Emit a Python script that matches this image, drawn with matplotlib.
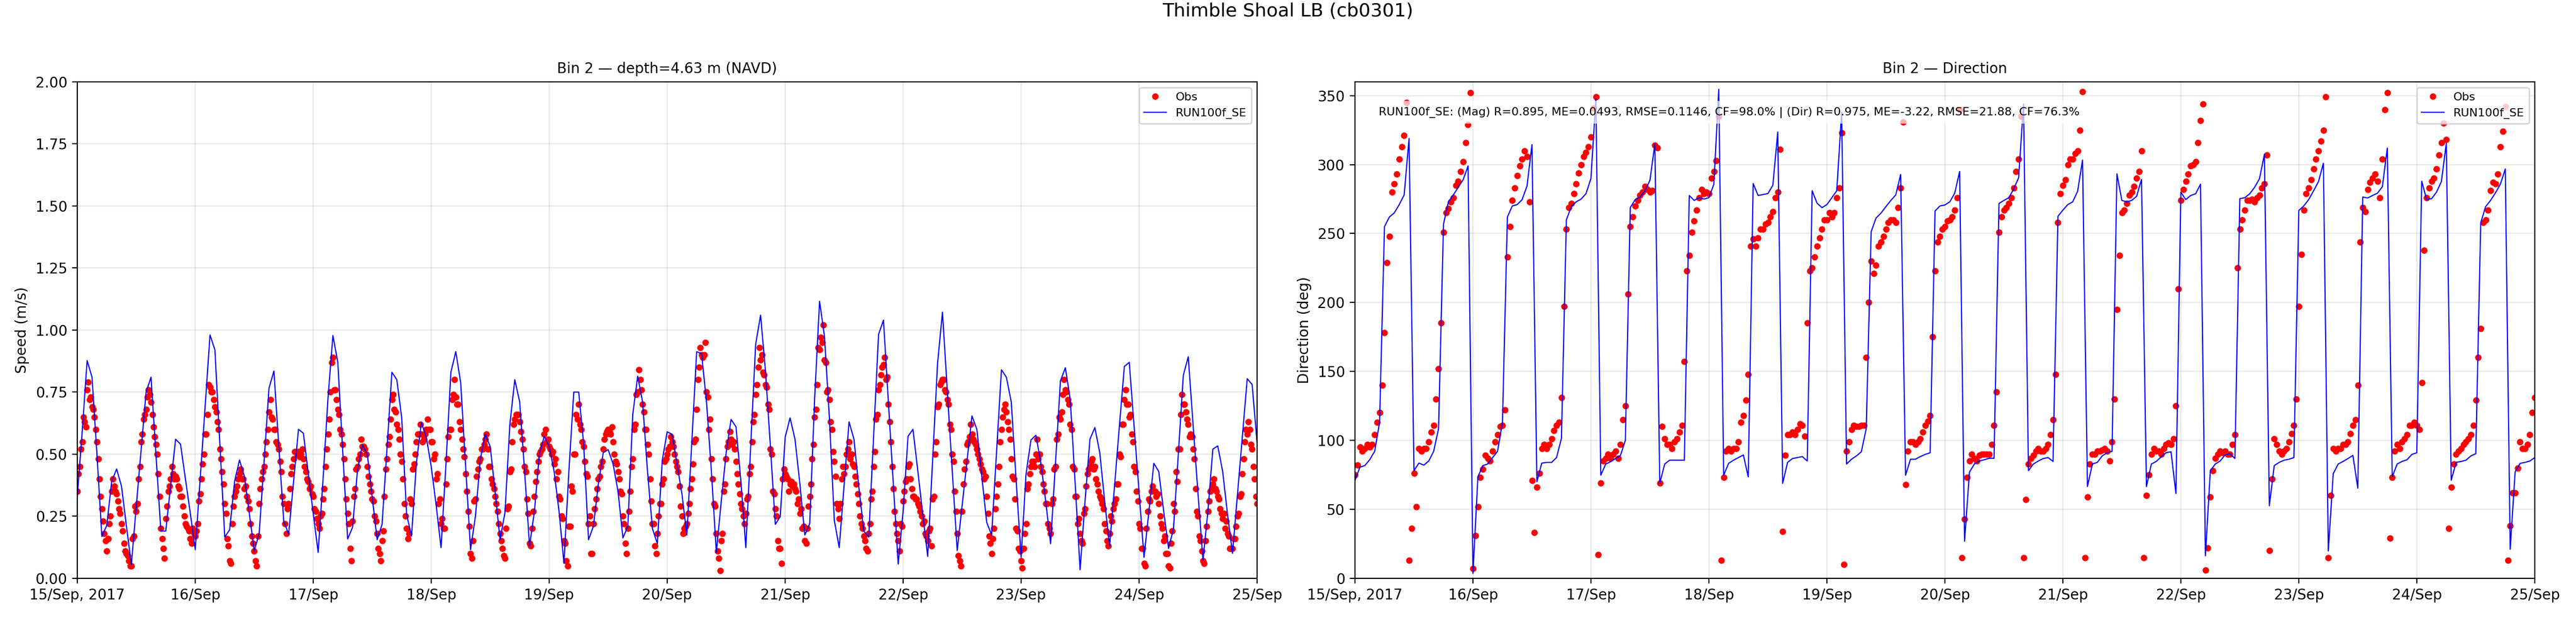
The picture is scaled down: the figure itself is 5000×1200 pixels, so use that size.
import pandas as pd
import matplotlib
matplotlib.use('Agg')
import matplotlib.pyplot as plt
import matplotlib.dates as mdates
from matplotlib.ticker import FuncFormatter

# model output, hourly from 15 Sep 2017 00:00
model_speed = [
    0.33, 0.59, 0.877, 0.81, 0.50, 0.168, 0.213, 0.39, 0.44, 0.37, 0.21, 0.055,
    0.29, 0.52, 0.75, 0.81, 0.50, 0.19, 0.19, 0.376, 0.56, 0.54, 0.40, 0.26,
    0.115, 0.40, 0.69, 0.98, 0.92, 0.545, 0.166, 0.195, 0.39, 0.476, 0.41, 0.26,
    0.11, 0.18, 0.47, 0.766, 0.835, 0.53, 0.229, 0.178, 0.39, 0.60, 0.584, 0.42,
    0.26, 0.104, 0.40, 0.725, 0.978, 0.87, 0.51, 0.158, 0.205, 0.435, 0.537, 0.50,
    0.326, 0.155, 0.217, 0.52, 0.83, 0.80, 0.646, 0.256, 0.17, 0.467, 0.627, 0.568,
    0.45, 0.295, 0.123, 0.46, 0.83, 0.913, 0.787, 0.45, 0.115, 0.25, 0.48, 0.58,
    0.53, 0.35, 0.155, 0.264, 0.62, 0.80, 0.71, 0.43, 0.13, 0.27, 0.50, 0.572,
    0.53, 0.43, 0.27, 0.06, 0.43, 0.75, 0.75, 0.545, 0.155, 0.21, 0.38, 0.506,
    0.518, 0.46, 0.35, 0.162, 0.21, 0.66, 0.814, 0.71, 0.43, 0.20, 0.139, 0.475,
    0.59, 0.58, 0.46, 0.34, 0.174, 0.545, 0.913, 0.905, 0.71, 0.43, 0.104, 0.31,
    0.506, 0.64, 0.61, 0.39, 0.123, 0.537, 0.943, 1.06, 0.834, 0.53, 0.217, 0.248,
    0.568, 0.646, 0.56, 0.38, 0.174, 0.22, 0.725, 1.116, 0.974, 0.646, 0.233, 0.123,
    0.377, 0.63, 0.56, 0.365, 0.19, 0.166, 0.576, 0.982, 1.04, 0.71, 0.38, 0.057,
    0.27, 0.572, 0.60, 0.43, 0.256, 0.088, 0.475, 0.865, 1.072, 0.75, 0.43, 0.112,
    0.293, 0.475, 0.654, 0.60, 0.41, 0.225, 0.174, 0.506, 0.84, 0.81, 0.71, 0.39,
    0.084, 0.42, 0.557, 0.576, 0.467, 0.31, 0.139, 0.467, 0.795, 0.848, 0.72, 0.38,
    0.034, 0.31, 0.56, 0.607, 0.506, 0.31, 0.13, 0.37, 0.615, 0.853, 0.87, 0.607,
    0.346, 0.084, 0.27, 0.463, 0.43, 0.27, 0.12, 0.20, 0.506, 0.818, 0.892, 0.615,
    0.336, 0.073, 0.27, 0.52, 0.533, 0.43, 0.256, 0.10, 0.334, 0.57, 0.804, 0.78,
    0.545,
]

model_dir = [
    71, 80.5, 81.7, 86, 92, 113, 255, 262, 265, 271, 278, 319,
    78, 83.5, 82, 85, 92, 108.5, 256.7, 273, 278, 283.5, 289, 299,
    3.5, 73.5, 81.7, 82.8, 87.5, 92, 113, 262, 270, 271, 274.6, 284.6,
    314.5, 70, 83.5, 84, 84, 87.5, 101.5, 260, 269.5, 273, 275, 279,
    290, 347.6, 74.7, 82.8, 84.5, 86.8, 89, 100, 268.8, 274.6, 276.5, 281,
    288.6, 315, 68.8, 82.8, 85.6, 85.6, 85.6, 85.6, 277.6, 274, 276, 275,
    276, 285.8, 354.6, 74.7, 83.3, 85.6, 87.5, 89.4, 73.5, 286.3, 277.6, 278.3,
    279, 285, 323.6, 68.8, 84, 86.8, 87.5, 88.2, 85, 281, 272, 268.8,
    271, 276, 281, 338, 82.8, 86.3, 88.7, 91.7, 108.5, 251.3, 261.3, 264.8,
    269.5, 274, 278, 292.8, 74.7, 86.3, 86.3, 88.2, 89.8, 91, 266.4, 270,
    270.7, 273, 279.3, 295, 26.8, 77, 82.8, 85, 85.9, 87, 87, 271.8,
    274, 276, 282.3, 290.5, 344, 78, 82.8, 85, 86.8, 87.5, 84.7, 262.5,
    267, 271, 273, 280.7, 303.3, 66.5, 82.8, 84, 88.7, 91, 92, 293.3,
    274, 273, 274, 277, 289.3, 66.5, 82.8, 84.7, 88, 91, 91.7, 61.4,
    280, 274.6, 277.6, 278.8, 285.8, 16.3, 78, 82.8, 85, 89.4, 90.3, 86.8,
    275.3, 276, 278.8, 283.5, 289.8, 307.5, 52.5, 81.7, 84, 85.6, 86.3, 87.5,
    266.7, 270, 274.6, 281, 287.7, 301, 19.8, 75.8, 82.8, 84.7, 86.8, 89.1,
    65.3, 276.5, 275.8, 277.6, 279.3, 284, 312, 73.5, 82.8, 84.7, 85.9, 89.8,
    91, 288, 274.6, 275.3, 280, 287.7, 315.4, 71, 84, 84.7, 85.6, 88.7,
    90.3, 257.8, 269.5, 274, 279.5, 285.8, 296.8, 21, 77, 83.3, 84, 85,
    87.5,
]

# observations on the hour and half hour
obs_speed = [
    0.35, 0.45, 0.55, 0.63, 0.76, 0.72, 0.69, 0.65, 0.55, 0.40, 0.28, 0.18,
    0.11, 0.22, 0.35, 0.37, 0.34, 0.28, 0.22, 0.14, 0.10, 0.07, 0.05, 0.17,
    0.27, 0.40, 0.55, 0.64, 0.68, 0.76, 0.71, 0.61, 0.54, 0.42, 0.20, 0.12,
    0.24, 0.35, 0.40, 0.42, 0.41, 0.37, 0.33, 0.29, 0.22, 0.20, 0.16, 0.20,
    0.17, 0.22, 0.34, 0.46, 0.58, 0.66, 0.77, 0.75, 0.69, 0.63, 0.52, 0.43,
    0.30, 0.16, 0.07, 0.22, 0.33, 0.37, 0.42, 0.40, 0.36, 0.33, 0.28, 0.17,
    0.11, 0.05, 0.30, 0.40, 0.45, 0.55, 0.67, 0.65, 0.60, 0.55, 0.52, 0.43,
    0.30, 0.18, 0.30, 0.42, 0.48, 0.51, 0.51, 0.50, 0.48, 0.43, 0.39, 0.37,
    0.33, 0.27, 0.22, 0.25, 0.32, 0.45, 0.58, 0.75, 0.89, 0.76, 0.68, 0.60,
    0.54, 0.40, 0.26, 0.12, 0.23, 0.36, 0.45, 0.50, 0.53, 0.52, 0.45, 0.38,
    0.32, 0.25, 0.18, 0.10, 0.15, 0.33, 0.48, 0.57, 0.72, 0.68, 0.62, 0.56,
    0.47, 0.30, 0.20, 0.18, 0.30, 0.46, 0.55, 0.58, 0.58, 0.56, 0.60, 0.60,
    0.55, 0.48, 0.40, 0.30, 0.22, 0.20, 0.38, 0.57, 0.60, 0.74, 0.73, 0.70,
    0.60, 0.52, 0.42, 0.27, 0.10, 0.15, 0.32, 0.44, 0.48, 0.52, 0.56, 0.52,
    0.45, 0.38, 0.33, 0.27, 0.18, 0.12, 0.08, 0.28, 0.43, 0.55, 0.64, 0.66,
    0.63, 0.56, 0.45, 0.32, 0.14, 0.20, 0.33, 0.43, 0.50, 0.52, 0.58, 0.55,
    0.53, 0.50, 0.46, 0.40, 0.33, 0.25, 0.15, 0.07, 0.21, 0.37, 0.50, 0.66,
    0.70, 0.60, 0.53, 0.42, 0.22, 0.10, 0.22, 0.32, 0.40, 0.45, 0.52, 0.58,
    0.60, 0.58, 0.55, 0.47, 0.43, 0.35, 0.25, 0.14, 0.20, 0.35, 0.48, 0.62,
    0.75, 0.80, 0.70, 0.60, 0.54, 0.40, 0.22, 0.13, 0.18, 0.30, 0.38, 0.47,
    0.50, 0.53, 0.55, 0.50, 0.45, 0.37, 0.25, 0.20, 0.22, 0.30, 0.40, 0.55,
    0.68, 0.85, 0.90, 0.90, 0.75, 0.60, 0.48, 0.30, 0.18, 0.08, 0.15, 0.35,
    0.48, 0.55, 0.56, 0.55, 0.47, 0.38, 0.30, 0.25, 0.26, 0.33, 0.45, 0.63,
    0.74, 0.85, 0.88, 0.83, 0.78, 0.70, 0.52, 0.35, 0.28, 0.15, 0.12, 0.40,
    0.42, 0.40, 0.38, 0.37, 0.36, 0.30, 0.26, 0.20, 0.15, 0.20, 0.33, 0.48,
    0.65, 0.78, 0.92, 0.95, 0.88, 0.75, 0.72, 0.60, 0.47, 0.30, 0.24, 0.40,
    0.42, 0.50, 0.55, 0.50, 0.45, 0.38, 0.30, 0.22, 0.17, 0.12, 0.18, 0.32,
    0.45, 0.64, 0.76, 0.82, 0.86, 0.80, 0.70, 0.55, 0.36, 0.22, 0.15, 0.22,
    0.31, 0.39, 0.45, 0.40, 0.33, 0.32, 0.30, 0.27, 0.22, 0.18, 0.15, 0.20,
    0.32, 0.50, 0.69, 0.78, 0.80, 0.76, 0.72, 0.62, 0.50, 0.35, 0.18, 0.07,
    0.27, 0.44, 0.54, 0.57, 0.58, 0.55, 0.52, 0.48, 0.44, 0.40, 0.33, 0.17,
    0.10, 0.20, 0.33, 0.45, 0.60, 0.68, 0.67, 0.60, 0.48, 0.40, 0.20, 0.12,
    0.07, 0.12, 0.22, 0.38, 0.45, 0.47, 0.50, 0.48, 0.45, 0.38, 0.30, 0.22,
    0.18, 0.32, 0.45, 0.58, 0.64, 0.74, 0.76, 0.72, 0.62, 0.45, 0.33, 0.22,
    0.18, 0.14, 0.28, 0.42, 0.45, 0.48, 0.45, 0.38, 0.33, 0.30, 0.22, 0.15,
    0.18, 0.23, 0.30, 0.38, 0.50, 0.62, 0.72, 0.70, 0.65, 0.58, 0.45, 0.35,
    0.22, 0.12, 0.06, 0.20, 0.32, 0.35, 0.35, 0.33, 0.30, 0.22, 0.15, 0.10,
    0.05, 0.14, 0.30, 0.43, 0.52, 0.66, 0.70, 0.67, 0.62, 0.58, 0.52, 0.36,
    0.25, 0.15, 0.07, 0.15, 0.27, 0.35, 0.38, 0.36, 0.33, 0.28, 0.24, 0.20,
    0.18, 0.12, 0.12, 0.16, 0.25, 0.33, 0.42, 0.55, 0.58, 0.60, 0.52, 0.40,
    0.30,
]

# observations at quarter past and quarter to
obs_speed_q = [
    0.42, 0.52, 0.65, 0.61, 0.79, 0.73, 0.68, 0.60, 0.48, 0.33, 0.23, 0.15, 0.16, 0.25, 0.40, 0.35, 0.31, 0.26, 0.19, 0.11, 0.09, 0.05, 0.16, 0.29,
    0.30, 0.45, 0.58, 0.66, 0.73, 0.74, 0.66, 0.57, 0.50, 0.33, 0.16, 0.08, 0.29, 0.37, 0.45, 0.40, 0.40, 0.36, 0.33, 0.25, 0.21, 0.19, 0.14, 0.18,
    0.19, 0.31, 0.40, 0.50, 0.58, 0.78, 0.75, 0.72, 0.67, 0.60, 0.48, 0.38, 0.26, 0.13, 0.06, 0.29, 0.35, 0.40, 0.44, 0.40, 0.37, 0.31, 0.22, 0.14,
    0.07, 0.17, 0.36, 0.43, 0.50, 0.60, 0.72, 0.64, 0.60, 0.54, 0.47, 0.33, 0.22, 0.28, 0.36, 0.45, 0.51, 0.50, 0.49, 0.52, 0.45, 0.40, 0.36, 0.34,
    0.28, 0.24, 0.20, 0.26, 0.36, 0.52, 0.64, 0.87, 0.76, 0.72, 0.66, 0.58, 0.48, 0.32, 0.22, 0.07, 0.33, 0.44, 0.48, 0.56, 0.53, 0.50, 0.41, 0.35,
    0.31, 0.23, 0.12, 0.07, 0.19, 0.44, 0.54, 0.64, 0.74, 0.67, 0.60, 0.50, 0.40, 0.25, 0.16, 0.32, 0.44, 0.50, 0.58, 0.62, 0.55, 0.58, 0.64, 0.60,
    0.55, 0.50, 0.42, 0.32, 0.24, 0.20, 0.48, 0.60, 0.72, 0.80, 0.70, 0.63, 0.56, 0.49, 0.35, 0.21, 0.08, 0.31, 0.41, 0.47, 0.52, 0.54, 0.58, 0.45,
    0.40, 0.36, 0.30, 0.22, 0.15, 0.09, 0.20, 0.29, 0.44, 0.62, 0.66, 0.66, 0.59, 0.52, 0.43, 0.26, 0.13, 0.27, 0.39, 0.47, 0.51, 0.54, 0.60, 0.56,
    0.52, 0.51, 0.48, 0.43, 0.32, 0.24, 0.14, 0.05, 0.21, 0.35, 0.50, 0.64, 0.62, 0.55, 0.47, 0.41, 0.25, 0.10, 0.28, 0.36, 0.41, 0.47, 0.56, 0.59,
    0.59, 0.61, 0.50, 0.46, 0.40, 0.34, 0.22, 0.10, 0.27, 0.45, 0.60, 0.74, 0.84, 0.76, 0.67, 0.60, 0.50, 0.31, 0.22, 0.10, 0.25, 0.30, 0.40, 0.48,
    0.52, 0.57, 0.53, 0.47, 0.43, 0.29, 0.18, 0.21, 0.26, 0.36, 0.46, 0.56, 0.80, 0.93, 0.89, 0.95, 0.73, 0.64, 0.40, 0.29, 0.11, 0.03, 0.18, 0.38,
    0.53, 0.59, 0.54, 0.52, 0.42, 0.34, 0.28, 0.22, 0.32, 0.42, 0.55, 0.66, 0.78, 0.93, 0.90, 0.82, 0.77, 0.68, 0.50, 0.34, 0.25, 0.12, 0.06, 0.44,
    0.41, 0.35, 0.39, 0.38, 0.35, 0.32, 0.28, 0.21, 0.14, 0.29, 0.38, 0.54, 0.68, 0.93, 0.97, 1.02, 0.87, 0.76, 0.63, 0.51, 0.41, 0.28, 0.30, 0.45,
    0.45, 0.52, 0.48, 0.46, 0.41, 0.34, 0.25, 0.20, 0.15, 0.11, 0.22, 0.35, 0.51, 0.66, 0.78, 0.85, 0.89, 0.81, 0.63, 0.45, 0.27, 0.18, 0.11, 0.21,
    0.35, 0.40, 0.46, 0.36, 0.33, 0.32, 0.29, 0.25, 0.23, 0.17, 0.19, 0.13, 0.33, 0.55, 0.70, 0.79, 0.80, 0.75, 0.70, 0.60, 0.47, 0.27, 0.09, 0.05,
    0.38, 0.47, 0.55, 0.62, 0.56, 0.54, 0.50, 0.46, 0.43, 0.41, 0.26, 0.14, 0.16, 0.28, 0.38, 0.55, 0.65, 0.70, 0.63, 0.56, 0.41, 0.32, 0.19, 0.11,
    0.04, 0.18, 0.36, 0.42, 0.47, 0.45, 0.56, 0.50, 0.43, 0.35, 0.30, 0.20, 0.30, 0.44, 0.56, 0.65, 0.67, 0.80, 0.75, 0.70, 0.60, 0.44, 0.33, 0.24,
    0.15, 0.26, 0.37, 0.44, 0.47, 0.44, 0.40, 0.35, 0.32, 0.28, 0.19, 0.13, 0.25, 0.28, 0.32, 0.38, 0.49, 0.62, 0.76, 0.70, 0.66, 0.55, 0.43, 0.31,
    0.20, 0.12, 0.05, 0.27, 0.31, 0.37, 0.35, 0.34, 0.25, 0.20, 0.17, 0.10, 0.04, 0.19, 0.27, 0.39, 0.52, 0.74, 0.70, 0.64, 0.57, 0.57, 0.48, 0.27,
    0.17, 0.11, 0.06, 0.21, 0.31, 0.36, 0.40, 0.35, 0.32, 0.26, 0.26, 0.23, 0.17, 0.12, 0.16, 0.21, 0.26, 0.34, 0.48, 0.60, 0.63, 0.54, 0.45, 0.33,
]

obs_dir = [
    75, 82, 95, 92, 94, 97, 95, 97, 104, 113, 120, 140,
    178, 229, 248, 280, 286, 293, 304, 313, 321, 345, 13, 36,
    76, 52, 94, 92, 94, 94, 99, 106, 111, 130, 152, 185,
    251, 265, 268, 273, 276, 285, 288, 295, 302, 316, 329, 352,
    7, 31, 52, 73, 79, 89, 87, 85, 92, 99, 104, 110,
    111, 122, 233, 255, 274, 283, 292, 299, 304, 310, 306, 273,
    71, 33, 66, 76, 94, 97, 94, 97, 101, 107, 111, 113,
    131, 197, 253, 269, 272, 279, 286, 294, 300, 306, 309, 313,
    320, 341, 349, 17, 69, 85, 87, 90, 87, 90, 92, 87,
    97, 115, 125, 206, 255, 262, 270, 274, 278, 280, 284, 282,
    280, 281, 314, 312, 69, 110, 101, 97, 97, 94, 99, 101,
    106, 111, 157, 223, 234, 251, 259, 267, 276, 282, 279, 280,
    279, 290, 295, 303, 335, 13, 73, 92, 94, 92, 94, 94,
    99, 113, 118, 129, 148, 241, 246, 241, 247, 253, 253, 257,
    258, 262, 266, 276, 280, 311, 34, 89, 104, 104, 106, 104,
    108, 112, 111, 103, 185, 223, 225, 233, 241, 247, 253, 260,
    260, 265, 262, 265, 276, 283, 323, 10, 92, 99, 108, 111,
    110, 110, 111, 111, 160, 200, 230, 221, 227, 241, 244, 248,
    253, 258, 260, 260, 258, 269, 283, 331, 68, 92, 99, 99,
    97, 99, 101, 106, 111, 114, 118, 175, 223, 244, 248, 253,
    255, 259, 260, 262, 267, 276, 340, 15, 43, 73, 85, 90,
    87, 85, 89, 90, 90, 90, 90, 97, 111, 135, 251, 262,
    267, 269, 272, 276, 283, 295, 304, 335, 15, 57, 83, 87,
    89, 92, 94, 92, 92, 94, 97, 104, 115, 148, 258, 279,
    285, 289, 300, 304, 304, 308, 310, 325, 353, 15, 59, 83,
    90, 90, 92, 92, 93, 94, 92, 85, 99, 130, 195, 234,
    265, 267, 272, 278, 280, 284, 290, 295, 310, 15, 60, 75,
    90, 94, 92, 92, 90, 94, 97, 98, 97, 101, 125, 210,
    274, 282, 288, 293, 299, 300, 302, 316, 332, 344, 6, 22,
    59, 78, 87, 90, 92, 91, 92, 90, 90, 97, 104, 225,
    253, 260, 267, 274, 274, 275, 273, 276, 278, 283, 286, 307,
    20, 72, 101, 97, 92, 90, 92, 94, 99, 105, 111, 130,
    197, 235, 267, 279, 283, 289, 297, 304, 310, 317, 325, 349,
    15, 60, 94, 92, 94, 94, 97, 97, 99, 105, 111, 115,
    140, 244, 269, 266, 282, 287, 290, 293, 288, 276, 304, 340,
    352, 29, 73, 92, 97, 94, 99, 101, 104, 111, 111, 113,
    111, 108, 142, 238, 276, 283, 288, 290, 297, 307, 316, 330,
    318, 36, 66, 83, 90, 92, 94, 97, 99, 101, 104, 111,
    129, 160, 181, 258, 260, 267, 281, 287, 286, 293, 313, 324,
    342, 13, 38, 62, 62, 80, 99, 94, 94, 97, 104, 120,
    131,
]

day_ticks = pd.date_range('2017-09-15', '2017-09-25', freq='D')

stats_text = ('RUN100f_SE: (Mag) R=0.895, ME=0.0493, RMSE=0.1146, CF=98.0% | '
              '(Dir) R=0.975, ME=-3.22, RMSE=21.88, CF=76.3%')

t_model = pd.date_range('2017-09-15', periods=len(model_speed), freq='h')
t_obs = pd.date_range('2017-09-15', periods=len(obs_speed), freq='30min')
t_obs_q = pd.date_range('2017-09-15 00:15', periods=len(obs_speed_q), freq='30min')


def day_label(x, pos):
    d = mdates.num2date(x)
    if pos == 0:
        return d.strftime('%d/%b, %Y')
    return d.strftime('%d/%b')


fig, axes = plt.subplots(1, 2, figsize=(25, 6), dpi=200)
fig.subplots_adjust(left=0.03, right=0.984, top=0.8675, bottom=0.0644, wspace=0.083)

ax = axes[0]
ax.plot(t_obs, obs_speed, 'o', color='red', ms=3.5, label='Obs')
ax.plot(t_obs_q, obs_speed_q, 'o', color='red', ms=3.5)
ax.plot(t_model, model_speed, '-', color='blue', lw=0.8, label='RUN100f_SE')
ax.set_ylim(0, 2.0)
ax.set_yticks([0, 0.25, 0.5, 0.75, 1.0, 1.25, 1.5, 1.75, 2.0])
ax.set_ylabel('Speed (m/s)')
ax.set_title('Bin 2 \u2014 depth=4.63 m (NAVD)', fontsize=10)

ax = axes[1]
ax.plot(t_obs, obs_dir, 'o', color='red', ms=3.5, label='Obs')
ax.plot(t_model, model_dir, '-', color='blue', lw=0.8, label='RUN100f_SE')
ax.set_ylim(0, 360)
ax.set_yticks(range(0, 351, 50))
ax.set_ylabel('Direction (deg)')
ax.set_title('Bin 2 \u2014 Direction', fontsize=10)
ax.text(0.02, 0.95, stats_text, transform=ax.transAxes, fontsize=8, va='top', ha='left',
        bbox=dict(facecolor='white', alpha=0.7, edgecolor='none'))

for ax in axes:
    ax.set_xlim(day_ticks[0], day_ticks[-1])
    ax.set_xticks(day_ticks)
    ax.xaxis.set_major_formatter(FuncFormatter(day_label))
    ax.grid(True, alpha=0.3)
    ax.legend(loc='upper right', fontsize=8)

fig.suptitle('Thimble Shoal LB (cb0301)', fontsize=13, y=0.996)
fig.savefig('out.png')
